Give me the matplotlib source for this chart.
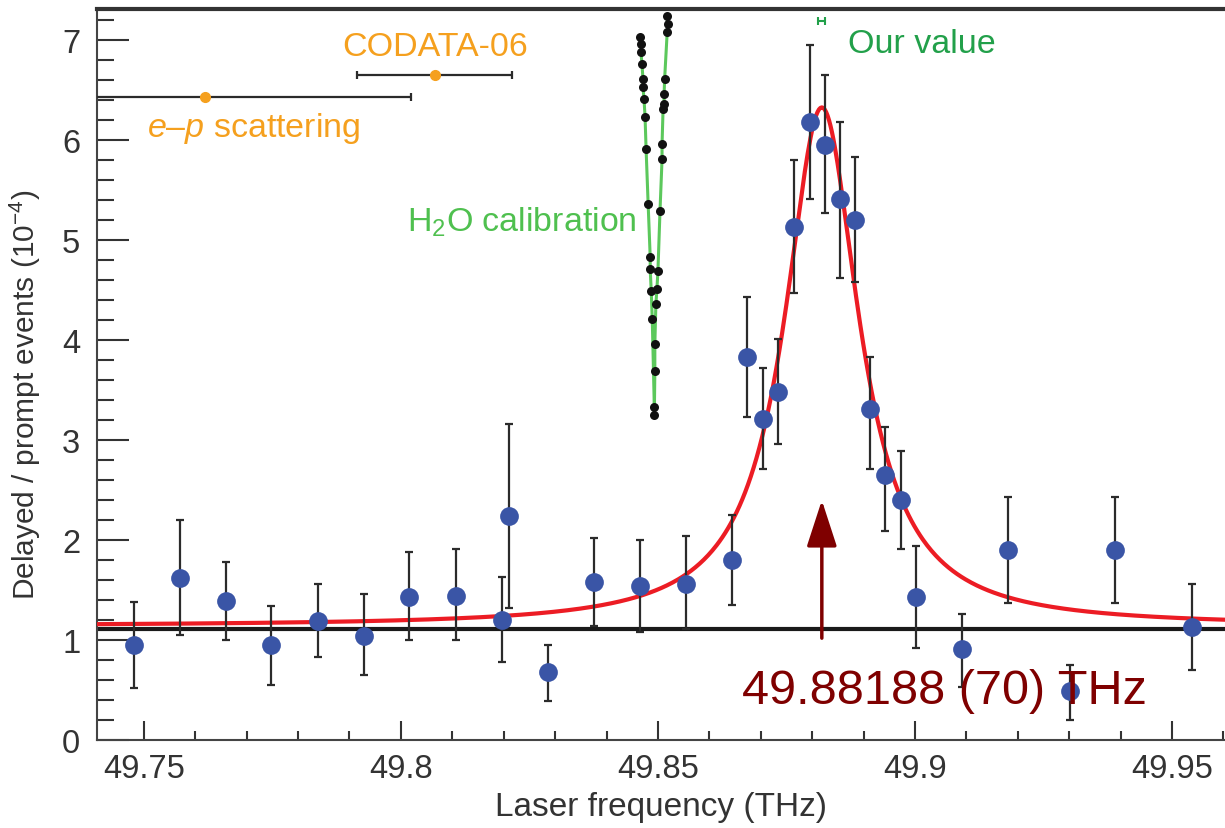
import numpy as np
import matplotlib
matplotlib.use("Agg")
import matplotlib.pyplot as plt
from matplotlib.ticker import MultipleLocator

plt.rcParams['font.family'] = ['Liberation Sans', 'DejaVu Sans']
plt.rcParams['mathtext.fontset'] = 'custom'
plt.rcParams['mathtext.rm'] = 'Liberation Sans'
plt.rcParams['mathtext.it'] = 'Liberation Sans:italic'

# measured resonance points (THz, delayed/prompt events x 1e-4) with error bar ends
freq = [49.7481, 49.7570, 49.7660, 49.7747, 49.7839, 49.7928, 49.8016, 49.8107,
        49.8197, 49.8210, 49.8286, 49.8375, 49.8465, 49.8554, 49.8644, 49.8673,
        49.8704, 49.8733, 49.8765, 49.8796, 49.8825, 49.8854, 49.8883, 49.8912,
        49.8942, 49.8973, 49.9002, 49.9091, 49.9181, 49.9302, 49.9389, 49.9539]
events = [0.95, 1.62, 1.39, 0.95, 1.19, 1.04, 1.43, 1.44,
          1.20, 2.24, 0.68, 1.58, 1.54, 1.56, 1.80, 3.83,
          3.21, 3.48, 5.13, 6.18, 5.95, 5.41, 5.20, 3.31,
          2.65, 2.40, 1.43, 0.91, 1.90, 0.49, 1.90, 1.13]
err_low = [0.52, 1.05, 1.00, 0.55, 0.83, 0.65, 1.00, 1.00,
           0.78, 1.32, 0.39, 1.14, 1.08, 1.11, 1.35, 3.23,
           2.71, 2.96, 4.47, 5.41, 5.27, 4.62, 4.58, 2.71,
           2.09, 1.91, 0.92, 0.53, 1.37, 0.20, 1.37, 0.70]
err_high = [1.38, 2.20, 1.78, 1.34, 1.56, 1.46, 1.88, 1.91,
            1.63, 3.16, 0.95, 2.02, 2.00, 2.04, 2.25, 4.43,
            3.72, 4.01, 5.80, 6.95, 6.65, 6.18, 5.83, 3.83,
            3.13, 2.89, 1.94, 1.26, 2.43, 0.75, 2.43, 1.56]

# Lorentzian fit parameters
fit_center = 49.88188
fit_hwhm = 0.0088
fit_amp = 5.19
fit_base = 1.14
background = 1.11

# H2O calibration scan (two branches)
h2o_left_x = [49.8465, 49.8467, 49.8467, 49.8469, 49.8471, 49.8471, 49.8473, 49.8475,
              49.8477, 49.8481, 49.8485, 49.8485, 49.8487, 49.8489, 49.8493, 49.8493]
h2o_left_y = [7.03, 6.96, 6.88, 6.76, 6.61, 6.53, 6.41, 6.23,
              5.91, 5.36, 4.83, 4.71, 4.49, 4.21, 3.33, 3.25]
h2o_right_x = [49.8494, 49.8494, 49.8496, 49.8498, 49.8500, 49.8504, 49.8508, 49.8508,
               49.8510, 49.8512, 49.8512, 49.8513, 49.8518, 49.8519, 49.8518]
h2o_right_y = [3.69, 3.96, 4.36, 4.51, 4.69, 5.29, 5.81, 5.96,
               6.31, 6.36, 6.46, 6.61, 7.08, 7.16, 7.24]

# previous determinations
ep_x, ep_y, ep_err = 49.7619, 6.43, 0.040
codata_x, codata_y, codata_err = 49.8066, 6.65, 0.0151
our_x, our_y, our_err = 49.88188, 7.19, 0.00070

fig = plt.figure(figsize=(12.25, 8.29), dpi=100)
ax = fig.add_axes([0.0792, 0.106, 0.9208, 0.882])

xs = np.linspace(49.74, 49.961, 800)
fit = fit_base + fit_amp / (1 + ((xs - fit_center) / fit_hwhm) ** 2)

ax.axhline(background, color='#1a1a1a', lw=3, zorder=2)
ax.plot(xs, fit, color='#ec1c24', lw=3, zorder=3)

f = np.array(freq)
e = np.array(events)
yerr = [e - np.array(err_low), np.array(err_high) - e]
ax.errorbar(f, e, yerr=yerr, fmt='none', ecolor='#2b2b2b', elinewidth=1.6,
            capsize=3, capthick=1.6, zorder=4)
ax.plot(f, e, 'o', color='#3a55a6', ms=13.5, mec='none', zorder=5)

# H2O calibration
ax.plot(h2o_left_x + h2o_right_x, h2o_left_y + h2o_right_y, color='#5cc85c', lw=2.2, zorder=3)
ax.plot(h2o_left_x + h2o_right_x, h2o_left_y + h2o_right_y, 'o', color='#111111',
        ms=6.5, mec='none', zorder=4)
ax.text(49.8459, 5.19, 'H$_2$O calibration', color='#4fc04f', fontsize=24.5,
        ha='right', va='center')

# e-p scattering and CODATA
orange = '#f5a01e'
ax.errorbar([ep_x], [ep_y], xerr=ep_err, fmt='o', color=orange, ecolor='#2b2b2b',
            elinewidth=1.6, capsize=3, capthick=1.6, ms=7, zorder=5)
ax.text(49.7506, 6.13, r'$\it{e}$–$\it{p}$ scattering', color=orange, fontsize=24.5,
        ha='left', va='center')
ax.errorbar([codata_x], [codata_y], xerr=codata_err, fmt='o', color=orange, ecolor='#2b2b2b',
            elinewidth=1.6, capsize=3, capthick=1.6, ms=7, zorder=5)
ax.text(codata_x, 6.94, 'CODATA-06', color=orange, fontsize=24.5, ha='center', va='center')

# our value
green = '#22a04a'
ax.errorbar([our_x], [our_y], xerr=our_err, fmt='none', ecolor=green,
            elinewidth=1.5, capsize=3, capthick=1.5, zorder=5)
ax.text(49.8870, 6.97, 'Our value', color=green, fontsize=24.5, ha='left', va='center')

# arrow and result label
ax.annotate('', xy=(fit_center, 2.40), xytext=(fit_center, 1.02),
            arrowprops=dict(arrowstyle='-|>,head_length=0.4,head_width=0.13',
                            color='#7f0000', lw=2.5, mutation_scale=72,
                            shrinkA=0, shrinkB=0), zorder=6)
ax.text(49.9058, 0.50, '49.88188 (70) THz', color='#7f0000', fontsize=35,
        ha='center', va='center', zorder=6)

ax.set_xlim(49.7409, 49.9603)
ax.set_ylim(0, 7.315)
ax.xaxis.set_major_locator(MultipleLocator(0.05))
ax.xaxis.set_minor_locator(MultipleLocator(0.01))
ax.yaxis.set_major_locator(MultipleLocator(1))
ax.yaxis.set_minor_locator(MultipleLocator(0.2))
ax.set_xticks([49.75, 49.8, 49.85, 49.9, 49.95])
ax.set_xticklabels(['49.75', '49.8', '49.85', '49.9', '49.95'])

ax.tick_params(axis='both', which='both', direction='in', colors='#333333',
               labelsize=23.5, width=1.5)
ax.tick_params(axis='x', which='major', length=14, pad=9)
ax.tick_params(axis='x', which='minor', length=6.5)
ax.tick_params(axis='y', which='major', length=23, pad=12)
ax.tick_params(axis='y', which='minor', length=12)
ax.tick_params(axis='both', labelcolor='#333333')

ax.spines['right'].set_visible(False)
ax.spines['top'].set_linewidth(3)
ax.spines['top'].set_color('#333333')
for s in ['left', 'bottom']:
    ax.spines[s].set_linewidth(1.5)
    ax.spines[s].set_color('#444444')

ax.set_xlabel('Laser frequency (THz)', fontsize=24, color='#333333', labelpad=5)
ax.set_ylabel('Delayed / prompt events (10$^{-4}$)', fontsize=21.5, color='#333333')
ax.yaxis.set_label_coords(-0.048, 0.473)

fig.savefig('out.png', dpi=100)
